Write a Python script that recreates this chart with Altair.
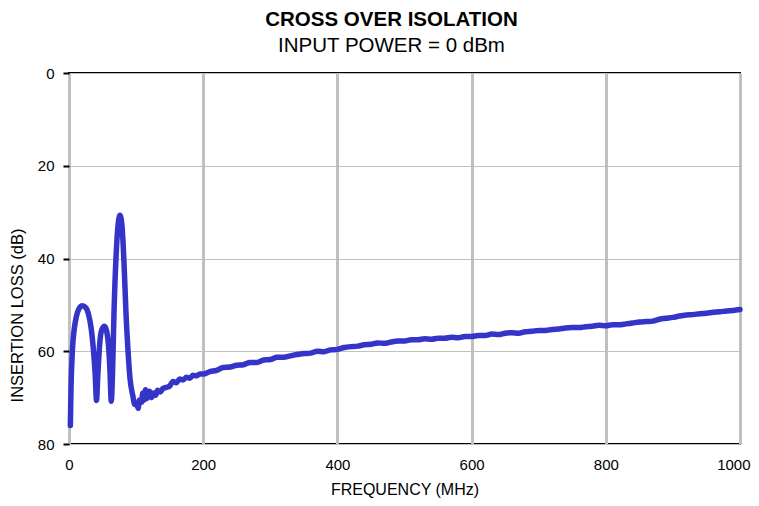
import altair as alt
import pandas as pd

TITLE = "CROSS OVER ISOLATION"
SUBTITLE = "INPUT POWER = 0 dBm"
X_TITLE = "FREQUENCY (MHz)"
Y_TITLE = "INSERTION LOSS (dB)"

freq = [2, 3, 5, 8, 11, 15, 20, 25, 29, 33, 36, 39, 41, 43, 46, 49, 53, 56, 59, 61, 63,
        65, 67, 70, 73, 76, 79, 82, 85, 88, 91, 95, 98, 101, 103, 105, 108, 110, 112, 114,
        116, 118, 120, 123, 126, 129, 132, 136, 140, 145, 150, 155, 160, 165, 170, 175, 180,
        185, 190, 195, 200, 210, 220, 230, 240, 250, 260, 270, 280, 290, 300, 310, 320, 330,
        340, 350, 360, 370, 380, 390, 400, 410, 420, 430, 440, 450, 460, 470, 480, 490, 500,
        510, 520, 530, 540, 550, 560, 570, 580, 590, 600, 610, 620, 630, 640, 650, 660, 670,
        680, 690, 700, 710, 720, 730, 740, 750, 760, 770, 780, 790, 800, 810, 820, 830, 840,
        850, 860, 870, 880, 890, 900, 910, 920, 930, 940, 950, 960, 970, 980, 990, 1000]
loss = [76, 68, 60, 55, 52.5, 50.8, 50.2, 50.6, 52, 55, 59, 65, 70.6, 65, 58, 55.3, 54.6, 55.6, 59, 64, 70.8,
        64, 52, 40, 33, 30.7, 33, 41, 52, 60, 66, 69.5, 71.5, 71.2, 72.3, 70.5, 71, 69, 70.5, 68.3,
        70.2, 69.5, 68.6, 70, 69, 69.5, 68.4, 68.8, 68, 67.8, 67.5, 66.5, 66.8, 66, 66.2, 65.6, 65.8,
        65.2, 65.3, 64.9, 64.9, 64.4, 64.1, 63.5, 63.4, 63.0, 62.9, 62.4, 62.4, 61.9, 61.8, 61.3, 61.3, 61.0,
        60.7, 60.5, 60.4, 60.0, 60.1, 59.7, 59.6, 59.2, 59.0, 58.9, 58.6, 58.5, 58.2, 58.3, 58.0, 57.8, 57.8,
        57.5, 57.5, 57.3, 57.4, 57.2, 57.2, 57.0, 57.1, 56.8, 56.8, 56.6, 56.6, 56.3, 56.4, 56.1, 56.0, 56.1,
        55.8, 55.7, 55.5, 55.5, 55.3, 55.2, 55.0, 54.9, 54.9, 54.7, 54.6, 54.4, 54.5, 54.3, 54.3, 54.1, 53.9,
        53.7, 53.6, 53.5, 53.1, 52.9, 52.7, 52.4, 52.2, 52.1, 51.9, 51.8, 51.6, 51.5, 51.3, 51.2, 51.0]

x_ticks = [0, 200, 400, 600, 800, 1000]
y_ticks = [0, 20, 40, 60, 80]

df = pd.DataFrame({"freq": freq, "loss": loss})

line = alt.Chart(df).mark_line(
    color="#3434C8", strokeWidth=5.5, interpolate="monotone", strokeJoin="round", strokeCap="round"
).encode(
    x=alt.X("freq:Q", scale=alt.Scale(domain=[0, 1000], nice=False),
            axis=alt.Axis(values=x_ticks, format="d", title=X_TITLE,
                          grid=True, gridColor="#C0C0C0", gridWidth=3, gridOpacity=1,
                          ticks=False, domain=False, labelPadding=13, labelFlush=False,
                          labelAlign={"condition": {"test": "datum.value == 1000", "value": "right"},
                                      "value": "center"},
                          labelOffset={"condition": {"test": "datum.value == 1000", "value": 10},
                                       "value": 0},
                          titleY=45, titleBaseline="middle", titleFontSize=16)),
    y=alt.Y("loss:Q", scale=alt.Scale(domain=[0, 80], reverse=True, nice=False),
            axis=alt.Axis(values=y_ticks, title=Y_TITLE,
                          grid=True, gridColor="#C0C0C0", gridWidth=1, gridOpacity=1,
                          ticks=True, tickColor="black", tickSize=6, tickWidth=2,
                          domain=False, labelPadding=9,
                          titleX=-47, titleY=242, titleAngle=270, titleAlign="center",
                          titleBaseline="alphabetic", titleFontSize=16.5)),
)

chart = line.properties(
    width=671, height=371,
    autosize=alt.AutoSizeParams(type="none"),
    padding={"left": 61, "top": 65, "right": 11, "bottom": 54},
    title=alt.TitleParams(text=TITLE, subtitle=SUBTITLE, anchor="middle", dx=-13,
                          fontSize=20.5, fontWeight="bold", font="Liberation Sans", color="black",
                          subtitleFontSize=20.5, subtitleFont="Liberation Sans", subtitleColor="black",
                          subtitlePadding=5, offset=10),
).configure_view(
    stroke="black", strokeWidth=2
).configure_axis(
    labelFont="Liberation Sans", titleFont="Liberation Sans", labelFontSize=15,
    labelColor="black", titleColor="black", titleFontWeight="normal"
)

chart.save("out.html", embed_options={"renderer": "svg", "actions": False})
